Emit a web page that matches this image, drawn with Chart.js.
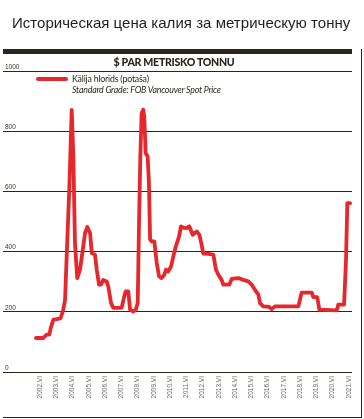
<!DOCTYPE html>
<html>
<head>
<meta charset="utf-8">
<script src="https://cdn.jsdelivr.net/npm/chart.js@4/dist/chart.umd.min.js"></script>
<style>
  html, body { margin:0; padding:0; background:#fff; }
  #wrap { position:relative; width:364px; height:419px; overflow:hidden; }
  #c { position:absolute; left:0; top:0; }
  .abs { position:absolute; white-space:nowrap; }
  #title { left:12px; top:15px; font:15px "Liberation Sans", Arial, sans-serif; line-height:15px; color:#1e1e1e; letter-spacing:0.03px; }
  #bar { left:3px; top:49px; width:349px; height:5px; background:#2b2619; }
  #vline { left:361px; top:49px; width:1px; height:369px; background:#2b2619; }
  #bline { left:3px; top:417px; width:359px; height:1px; background:#2b2619; }
  #sub { left:0; width:348px; top:56.5px; text-align:center; font:900 10.6px Lato, sans-serif; line-height:11px; letter-spacing:-0.3px; color:#2b2619; }
  #legline { left:36px; top:77px; width:32px; height:3.5px; background:#e6282d; border-radius:2px; }
  #leg1 { left:72px; top:73.5px; font:8.8px Lato, sans-serif; line-height:9px; color:#2b2619; letter-spacing:-0.2px; }
  #leg2 { left:72px; top:85px; font:italic 8.8px Lato, sans-serif; line-height:9px; color:#2b2619; letter-spacing:-0.2px; }
</style>
</head>
<body>
<div id="wrap">
  <canvas id="c" width="364" height="419"></canvas>
  <div class="abs" id="title">Историческая цена калия за метрическую тонну</div>
  <div class="abs" id="bar"></div>
  <div class="abs" id="vline"></div>
  <div class="abs" id="bline"></div>
  <div class="abs" id="sub">$ PAR METRISKO TONNU</div>
  <div class="abs" id="legline"></div>
  <div class="abs" id="leg1">Kālija hlorīds (potaša)</div>
  <div class="abs" id="leg2">Standard Grade: FOB Vancouver Spot Price</div>
</div>
<script>
// Time positions (decimal years) and price values (USD per metric tonne)
const times = [2002.25, 2002.70, 2002.91, 2003.07, 2003.16, 2003.32, 2003.53, 2003.77, 2003.93, 2004.04,
  2004.14, 2004.30, 2004.45, 2004.55, 2004.65, 2004.79, 2004.96, 2005.13, 2005.27, 2005.41,
  2005.58, 2005.68, 2005.88, 2005.99, 2006.13, 2006.25, 2006.39, 2006.60, 2006.70, 2006.87,
  2007.01, 2007.22, 2007.52, 2007.68, 2007.77, 2007.93, 2008.04, 2008.24, 2008.39, 2008.51,
  2008.59, 2008.67, 2008.75, 2008.85, 2008.91, 2009.00, 2009.12, 2009.20, 2009.27, 2009.37,
  2009.53, 2009.68, 2009.82, 2009.98, 2010.14, 2010.25, 2010.39, 2010.56, 2010.70, 2010.85,
  2011.05, 2011.17, 2011.31, 2011.52, 2011.68, 2011.89, 2012.14, 2012.30, 2012.44, 2012.54,
  2012.75, 2013.16, 2013.32, 2013.47, 2013.67, 2013.77, 2014.14, 2014.29, 2014.70, 2015.00,
  2015.31, 2015.52, 2015.72, 2015.93, 2016.03, 2016.23, 2016.60, 2016.75, 2016.95, 2018.39,
  2018.59, 2019.21, 2019.31, 2019.55, 2019.68, 2020.75, 2020.85, 2021.20, 2021.32, 2021.40,
  2021.57];
const prices = [113, 113, 124, 124, 146, 174, 176, 179, 207, 240,
  384, 606, 871, 716, 428, 312, 340, 406, 462, 482,
  462, 395, 390, 340, 290, 290, 306, 301, 284, 229,
  213, 213, 213, 251, 268, 268, 207, 201, 207, 229,
  495, 716, 860, 871, 849, 727, 716, 628, 440, 434,
  434, 362, 318, 312, 323, 340, 334, 351, 384, 417,
  450, 484, 480, 478, 484, 456, 467, 456, 423, 393,
  393, 390, 340, 323, 306, 290, 290, 309, 312, 306,
  301, 290, 273, 257, 229, 218, 216, 209, 218, 218,
  264, 264, 249, 249, 207, 205, 224, 224, 373, 561,
  561];
const tickYears = [2002, 2003, 2004, 2005, 2006, 2007, 2008, 2009, 2010, 2011,
  2012, 2013, 2014, 2015, 2016, 2017, 2018, 2019, 2020, 2021];
const tickLabels = ['2002.VI', '2003.VI', '2004.VI', '2005.VI', '2006.VI', '2007.VI', '2008.VI',
  '2009.VI', '2010.VI', '2011.VI', '2012.VI', '2013.VI', '2014.VI', '2015.VI', '2016.VI',
  '2017.VI', '2018.VI', '2019.VI', '2020.VI', '2021.VI'];
const yTicks = [0, 200, 400, 600, 800, 1000];
const seriesLabel = 'Kālija hlorīds (potaša)';

const points = times.map((t, i) => ({ x: t, y: prices[i] }));

new Chart(document.getElementById('c'), {
  type: 'line',
  data: {
    datasets: [{
      label: seriesLabel,
      data: points,
      borderColor: '#e6282d',
      borderWidth: 3.8,
      pointRadius: 0,
      tension: 0,
      borderJoinStyle: 'round',
      borderCapStyle: 'round',
      fill: false
    }]
  },
  options: {
    responsive: false,
    devicePixelRatio: 1,
    animation: false,
    layout: { padding: { left: 3, right: 12, top: 71, bottom: 0 } },
    plugins: { legend: { display: false }, title: { display: false }, tooltip: { enabled: false } },
    scales: {
      x: {
        type: 'linear',
        min: 2000.224,
        max: 2021.688,
        afterBuildTicks: (s) => { s.ticks = tickYears.map(y => ({ value: y + 0.5 })); },
        afterFit: (s) => { s.height = 47; },
        grid: { display: false },
        border: { display: false },
        ticks: {
          autoSkip: false,
          minRotation: 90,
          maxRotation: 90,
          padding: -4,
          color: '#6b6b6b',
          font: { family: '"Liberation Sans", Arial, sans-serif', size: 6.5 },
          callback: (v, i) => tickLabels[i]
        }
      },
      y: {
        min: 0,
        max: 1000,
        afterFit: (s) => { s.width = 0; },
        afterBuildTicks: (s) => { s.ticks = yTicks.map(v => ({ value: v })); },
        grid: { color: '#2b2619', lineWidth: 1, drawTicks: false },
        border: { display: false },
        ticks: {
          mirror: true,
          padding: 2,
          labelOffset: -4,
          color: '#3a3428',
          font: { family: '"Liberation Sans", Arial, sans-serif', size: 6.5 },
          callback: (v) => String(v)
        }
      }
    }
  }
});
</script>
</body>
</html>
